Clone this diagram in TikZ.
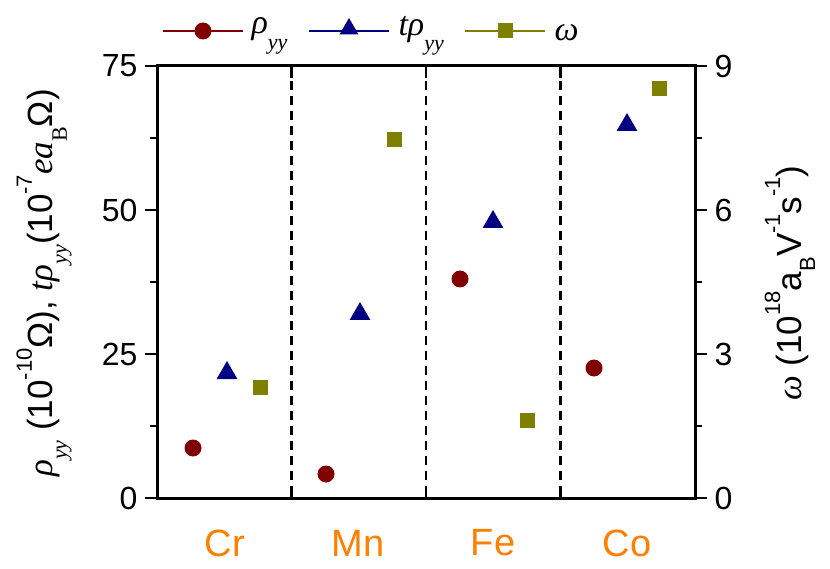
\documentclass[tikz,border=0pt]{standalone}
\usepackage{fontspec}
\usetikzlibrary{shapes.geometric}
\setmainfont{Liberation Sans}
\newfontfamily\serif{Liberation Serif}
\definecolor{cred}{RGB}{128,0,0}
\definecolor{cblue}{RGB}{0,0,128}
\definecolor{colive}{RGB}{128,128,0}
\definecolor{corange}{RGB}{255,128,0}
\newcommand{\gi}[1]{{\serif\itshape #1}}
\begin{document}
\begin{tikzpicture}[x=1pt,y=-1pt,
  ax/.style={line width=3pt},
  tk/.style={line width=2.4pt},
  circ/.style={circle,fill=cred,inner sep=0pt,minimum size=17pt},
  tri/.style={regular polygon,regular polygon sides=3,fill=cblue,inner sep=0pt,minimum size=24pt},
  sq/.style={rectangle,fill=colive,inner sep=0pt,minimum size=15pt},
  num/.style={font=\fontsize{32}{32}\selectfont},
  cat/.style={font=\fontsize{38}{38}\selectfont,text=corange}]
\useasboundingbox (0,0) rectangle (830,569);
% frame
\draw[ax] (157,66) rectangle (695,498);
% dashed separators
\foreach \x in {291.5,426,560.5} \draw[line width=2.2pt,dash pattern=on 9pt off 6pt] (\x,66) -- (\x,498);
% top/bottom ticks
\foreach \x in {157,291.5,426,560.5,695} {\draw[tk] (\x,66) -- (\x,78); \draw[tk] (\x,498) -- (\x,486);}
% left ticks
\foreach \v in {0,25,50,75} {\draw[tk] (157,{498-\v*5.76}) -- (145,{498-\v*5.76});
  \node[num,anchor=east] at (141,{498-\v*5.76}) {\v};}
\foreach \v in {12.5,37.5,62.5} \draw[tk] (157,{498-\v*5.76}) -- (150,{498-\v*5.76});
% right ticks
\foreach \v in {0,3,6,9} {\draw[tk] (695,{498-\v*48}) -- (707,{498-\v*48});
  \node[num,anchor=west] at (711,{498-\v*48}) {\v};}
\foreach \v in {1.5,4.5,7.5} \draw[tk] (695,{498-\v*48}) -- (702,{498-\v*48});
% data
\node[circ] (c1) at (193,448) {}; \node[tri] (t1) at (227,373) {}; \node[sq] (s1) at (260,387) {};
\node[circ] (c2) at (326,474) {}; \node[tri] (t2) at (360,314) {}; \node[sq] (s2) at (394,140) {};
\node[circ] (c3) at (460,279) {}; \node[tri] (t3) at (493,222) {}; \node[sq] (s3) at (527,420) {};
\node[circ] (c4) at (594,368) {}; \node[tri] (t4) at (627,125) {}; \node[sq] (s4) at (659,89) {};
% categories
\node[cat] (cr) at (225,543) {Cr};
\node[cat] (mn) at (358,543) {Mn};
\node[cat] (fe) at (493,543) {Fe};
\node[cat] (co) at (627,543) {Co};
% legend
\draw[cred,line width=1.2pt] (163,31) -- (243,31); \node[circ] (lc) at (203,31) {};
\node[anchor=west,font=\fontsize{34}{34}\selectfont] (lt1) at (248,36) {\gi{ρ}\raisebox{-0.45em}{\fontsize{22}{22}\selectfont\gi{yy}}};
\draw[cblue,line width=1.2pt] (309,31) -- (389,31); \node[tri,minimum size=22pt] (lt) at (349,29) {};
\node[anchor=west,font=\fontsize{34}{34}\selectfont] (lt2) at (395,36) {\gi{tρ}\raisebox{-0.45em}{\fontsize{22}{22}\selectfont\gi{yy}}};
\draw[colive,line width=1.2pt] (465,31) -- (545,31); \node[sq] (ls) at (505,31) {};
\node[anchor=west,font=\fontsize{34}{34}\selectfont] (lt3) at (551,33) {\gi{ω}};
% axis labels
\node[rotate=90,font=\fontsize{35}{35}\selectfont] (yl) at (44,283)
 {\gi{ρ}\raisebox{-0.4em}{\fontsize{22}{22}\selectfont\gi{yy}} (10\raisebox{0.6em}{\fontsize{22}{22}\selectfont -10}Ω), \gi{tρ}\raisebox{-0.4em}{\fontsize{22}{22}\selectfont\gi{yy}}(10\raisebox{0.6em}{\fontsize{22}{22}\selectfont -7}\gi{ea}\raisebox{-0.4em}{\fontsize{22}{22}\selectfont\serif B}Ω)};
\node[rotate=90,font=\fontsize{35}{35}\selectfont] (yr) at (790,283)
 {\gi{ω} (10\raisebox{0.6em}{\fontsize{22}{22}\selectfont 18}a\raisebox{-0.4em}{\fontsize{22}{22}\selectfont B}V\raisebox{0.6em}{\fontsize{22}{22}\selectfont -1}s\raisebox{0.6em}{\fontsize{22}{22}\selectfont -1})};
\end{tikzpicture}
\end{document}
